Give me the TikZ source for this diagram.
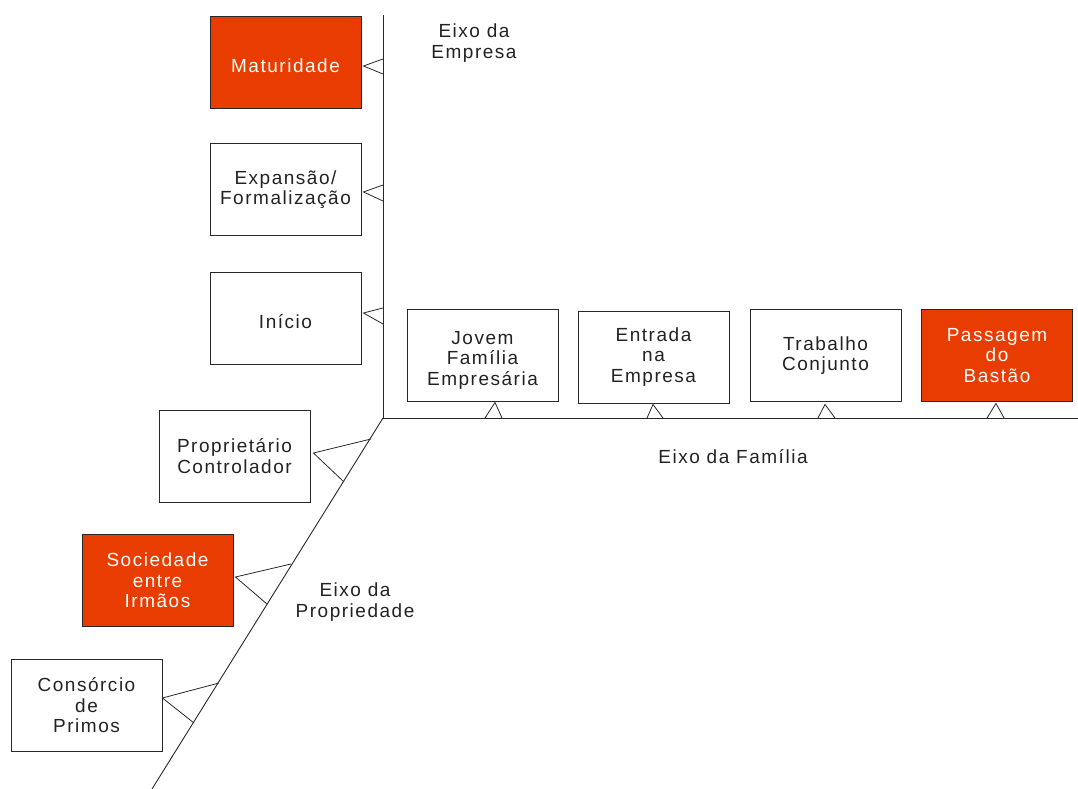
\documentclass[tikz,border=0pt]{standalone}
\usepackage{fontspec}
\setmainfont{Liberation Sans}[LetterSpace=8]
\usetikzlibrary{calc}
\definecolor{orng}{RGB}{232,60,0}
\definecolor{txt}{RGB}{34,34,34}
\definecolor{edge}{RGB}{40,40,40}
\newcommand{\lowr}[1]{\rule{0pt}{#1}}
\begin{document}
\begin{tikzpicture}[x=1pt,y=-1pt,
  box/.style={draw=edge, line width=0.9pt, minimum width=151pt, minimum height=92pt,
    align=center, inner sep=0pt, text=txt, font=\fontsize{19}{20.5}\selectfont},
  hot/.style={box, fill=orng, text=white},
  axisline/.style={draw=edge, line width=0.9pt},
  wedge/.style={draw=edge, line width=0.8pt},
  lbl/.style={align=center, text=txt, inner sep=0pt, font=\fontsize{19}{20.5}\selectfont}]
\useasboundingbox (0,0) rectangle (1078,789);
% axes
\coordinate (O) at (383,418);
\coordinate (top) at (383,15);
\coordinate (right) at (1078,418);
\coordinate (bot) at (152,789);
\draw[axisline] (top) -- (O) -- (right);
\draw[axisline] (O) -- (bot);
% company axis boxes
\node[hot] (mat) at (285.5,62.5) {\lowr{20pt}Maturidade};
\node[box] (exp) at (285.5,189.5) {Expansão/\\Formalização};
\node[box] (ini) at (285.5,318) {\lowr{21pt}Início};
% family axis boxes
\node[box] (jov) at (482.5,355) {\lowr{23pt}Jovem\\Família\\Empresária};
\node[box] (ent) at (653.5,357) {Entrada\\na\\Empresa};
\node[box] (tra) at (825.5,355.5) {Trabalho\\Conjunto};
\node[hot] (pas) at (997,355.5) {Passagem\\do\\Bastão};
% ownership axis boxes
\node[box] (pro) at (234.5,456) {Proprietário\\Controlador};
\node[hot] (soc) at (157.5,580.5) {Sociedade\\entre\\Irmãos};
\node[box] (con) at (86.5,705.5) {Consórcio\\de\\Primos};
% axis labels
\node[lbl] (le) at (474,43) {Eixo da\\Empresa};
\node[lbl] (lf) at (733,457) {Eixo da Família};
\node[lbl] (lp) at (355,602) {Eixo da\\Propriedade};
% wedges on company axis
\coordinate (m1) at (383,59);  \coordinate (m2) at (383,74);
\coordinate (e1) at (383,185); \coordinate (e2) at (383,201);
\coordinate (i1) at (383,308); \coordinate (i2) at (383,324);
\draw[wedge] (m1) -- ($(mat.east)+(2,3.5)$) -- (m2);
\draw[wedge] (e1) -- ($(exp.east)+(2,2.5)$) -- (e2);
\draw[wedge] (i1) -- ($(ini.east)+(2,-5)$) -- (i2);
% wedges on family axis
\coordinate (j1) at (485,418); \coordinate (j2) at (502,418);
\coordinate (n1) at (647,418); \coordinate (n2) at (663,418);
\coordinate (t1) at (818,418); \coordinate (t2) at (835,418);
\coordinate (p1) at (987,418); \coordinate (p2) at (1004,418);
\draw[wedge] (j1) -- ($(jov.south)+(12.5,1)$) -- (j2);
\draw[wedge] (n1) -- ($(ent.south)+(-0.5,1)$) -- (n2);
\draw[wedge] (t1) -- ($(tra.south)+(-0.5,2.5)$) -- (t2);
\draw[wedge] (p1) -- ($(pas.south)+(-1,1.5)$) -- (p2);
% wedges on ownership axis
\coordinate (r1) at (371,439); \coordinate (r2) at (344,482);
\coordinate (s1) at (291,564); \coordinate (s2) at (267,604);
\coordinate (c1) at (219,683); \coordinate (c2) at (194,723);
\draw[wedge] (r1) -- ($(pro.east)+(3,-3)$) -- (r2);
\draw[wedge] (s1) -- ($(soc.east)+(2,-3.5)$) -- (s2);
\draw[wedge] (c1) -- ($(con.east)+(0,-7.5)$) -- (c2);
\end{tikzpicture}
\end{document}
